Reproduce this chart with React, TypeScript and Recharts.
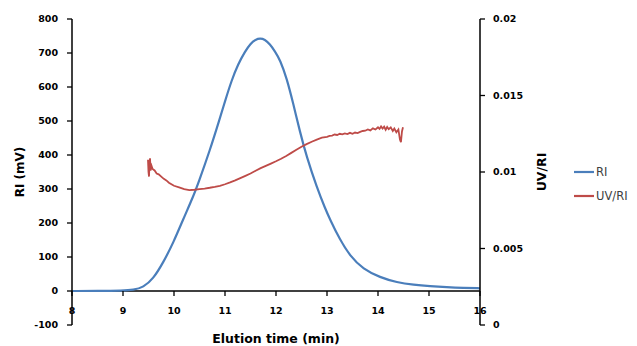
import { LineChart, Line, XAxis, YAxis, ReferenceLine, Legend } from 'recharts'

// RI detector trace (mV)
const riTime = [8, 8.5, 9, 9.2, 9.4, 9.59, 9.79, 9.99, 10.18, 10.38, 10.48, 10.7, 10.9, 11.0, 11.13, 11.26, 11.39, 11.5, 11.6, 11.69, 11.78, 11.88, 11.98, 12.08, 12.21, 12.34, 12.47, 12.6, 12.8, 12.96, 13.06, 13.25, 13.45, 13.71, 14.04, 14.37, 14.7, 15.02, 15.35, 15.67, 16]
const riValues = [0, 0, 1, 3, 11, 35, 84, 143, 211, 279, 319, 412, 508, 558, 620, 668, 704, 728, 740, 743, 740, 726, 705, 680, 626, 550, 468, 395, 305, 244, 210, 152, 103, 64, 40, 25, 18, 14, 11, 9, 8]

// UV/RI ratio
const ratioTime = [9.49, 9.5, 9.51, 9.52, 9.53, 9.54, 9.56, 9.58, 9.62, 9.66, 9.7, 9.75, 9.8, 9.85, 9.9, 9.95, 10, 10.1, 10.2, 10.3, 10.4, 10.5, 10.6, 10.7, 10.8, 10.9, 11, 11.1, 11.2, 11.3, 11.4, 11.5, 11.6, 11.7, 11.8, 11.9, 12, 12.1, 12.2, 12.3, 12.4, 12.5, 12.6, 12.7, 12.8, 12.9, 13, 13.05, 13.1, 13.15, 13.2, 13.25, 13.3, 13.35, 13.4, 13.45, 13.5, 13.55, 13.6, 13.65, 13.7, 13.75, 13.8, 13.85, 13.9, 13.95, 14, 14.03, 14.06, 14.09, 14.12, 14.15, 14.18, 14.21, 14.25, 14.29, 14.32, 14.36, 14.4, 14.43, 14.45, 14.47, 14.49]
const ratioValues = [0.0108, 0.01, 0.0097, 0.0106, 0.0109, 0.0101, 0.0104, 0.0102, 0.0101, 0.0099, 0.00985, 0.0097, 0.00955, 0.00945, 0.0093, 0.0092, 0.0091, 0.009, 0.00888, 0.00882, 0.00884, 0.00888, 0.00892, 0.00897, 0.00903, 0.0091, 0.0092, 0.00932, 0.00945, 0.0096, 0.00975, 0.0099, 0.01008, 0.01025, 0.0104, 0.01055, 0.0107, 0.01087, 0.01105, 0.01125, 0.01145, 0.01165, 0.01182, 0.01198, 0.01212, 0.01224, 0.0123, 0.01236, 0.01238, 0.01245, 0.01242, 0.0125, 0.01246, 0.01252, 0.01248, 0.01256, 0.0125, 0.01258, 0.01254, 0.01262, 0.01268, 0.0127, 0.01278, 0.01272, 0.01285, 0.01278, 0.01292, 0.01282, 0.01298, 0.01284, 0.01296, 0.01276, 0.01294, 0.0128, 0.01292, 0.01268, 0.01284, 0.0126, 0.01278, 0.01212, 0.01195, 0.01265, 0.01292]

const xTicks = [8, 9, 10, 11, 12, 13, 14, 15, 16]
const riTicks = [-100, 0, 100, 200, 300, 400, 500, 600, 700, 800]
const ratioTicks = [0, 0.005, 0.01, 0.015, 0.02]

const riData = riTime.map((t, i) => ({ t, ri: riValues[i] }))
const ratioData = ratioTime.map((t, i) => ({ t, ratio: ratioValues[i] }))

const FONT = '"DejaVu Sans", sans-serif'
const TOP = 19
const PLOT_H = 306
// distance from plot bottom (-100) up to the zero line
const ZERO_OFF = (PLOT_H * 100) / 900

const XTick = (props: any) => {
  const { x, y, payload } = props
  const y0 = y - ZERO_OFF
  return (
    <g>
      <line x1={x} x2={x} y1={y0} y2={y0 + 5} stroke="#000" strokeWidth={1.3} />
      <text x={x} y={y0 + 23} textAnchor="middle" fontFamily={FONT} fontSize={9.5} fontWeight="bold" fill="#000">
        {payload.value}
      </text>
    </g>
  )
}

const LegendBox = (props: any) => {
  const items = props.payload || []
  return (
    <svg width={62} height={44}>
      {items.map((it: any, i: number) => (
        <g key={it.value}>
          <line x1={0} x2={20} y1={8 + i * 24} y2={8 + i * 24} stroke={it.color} strokeWidth={2.2} />
          <text x={22} y={12 + i * 24} fontFamily={FONT} fontSize={11.5} fill="#404040">{it.value}</text>
        </g>
      ))}
    </svg>
  )
}

export default function App() {
  const tickStyle = { fontSize: 9.5, fontWeight: 'bold', fill: '#000', fontFamily: FONT }
  return (
    <div style={{ position: 'absolute', left: 0, top: 0, background: '#fff' }}>
      <LineChart width={637} height={346} margin={{ top: TOP, right: 87, left: 0, bottom: 0 }}>
        <XAxis
          dataKey="t"
          type="number"
          domain={[8, 16]}
          ticks={xTicks}
          allowDataOverflow
          axisLine={false}
          tickLine={false}
          tickSize={0}
          tickMargin={0}
          height={21}
          tick={<XTick />}
          label={{
            content: (p: any) => (
              <text x={p.viewBox.x + p.viewBox.width / 2} y={p.viewBox.y + 18} textAnchor="middle" fontFamily={FONT} fontSize={12.5} fontWeight="bold" fill="#000">
                Elution time (min)
              </text>
            ),
          }}
        />
        <YAxis
          yAxisId="left"
          domain={[-100, 800]}
          ticks={riTicks}
          width={72}
          axisLine={{ stroke: '#000', strokeWidth: 1.5 }}
          tickLine={{ stroke: '#000', strokeWidth: 1.3 }}
          tickSize={5}
          tickMargin={9}
          tick={tickStyle}
          label={{
            content: (p: any) => {
              const cx = 20
              const cy = p.viewBox.y + p.viewBox.height / 2
              return (
                <text x={cx} y={cy} transform={`rotate(-90 ${cx} ${cy})`} textAnchor="middle" dominantBaseline="central" fontFamily={FONT} fontSize={12} fontWeight="bold" fill="#000">
                  RI (mV)
                </text>
              )
            },
          }}
        />
        <YAxis
          yAxisId="right"
          orientation="right"
          domain={[0, 0.02]}
          ticks={ratioTicks}
          width={70}
          axisLine={{ stroke: '#000', strokeWidth: 1.5 }}
          tickLine={{ stroke: '#000', strokeWidth: 1.3 }}
          tickSize={5}
          tickMargin={8}
          tick={tickStyle}
          label={{
            content: (p: any) => {
              const cx = p.viewBox.x + 61
              const cy = p.viewBox.y + p.viewBox.height / 2
              return (
                <text x={cx} y={cy} transform={`rotate(-90 ${cx} ${cy})`} textAnchor="middle" dominantBaseline="central" fontFamily={FONT} fontSize={12.5} fontWeight="bold" fill="#000">
                  UV/RI
                </text>
              )
            },
          }}
        />
        <ReferenceLine yAxisId="left" y={0} stroke="#000" strokeWidth={1.5} />
        <Legend
          layout="vertical"
          verticalAlign="middle"
          align="center"
          wrapperStyle={{ left: 574, top: 164, width: 63, height: 44 }}
          content={<LegendBox />}
        />
        <Line
          yAxisId="left"
          data={riData}
          dataKey="ri"
          name="RI"
          type="basis"
          stroke="#4a7ebb"
          strokeWidth={2.2}
          dot={false}
          isAnimationActive={false}
        />
        <Line
          yAxisId="right"
          data={ratioData}
          dataKey="ratio"
          name="UV/RI"
          type="linear"
          stroke="#be4b48"
          strokeWidth={1.8}
          dot={false}
          isAnimationActive={false}
        />
      </LineChart>
    </div>
  )
}
